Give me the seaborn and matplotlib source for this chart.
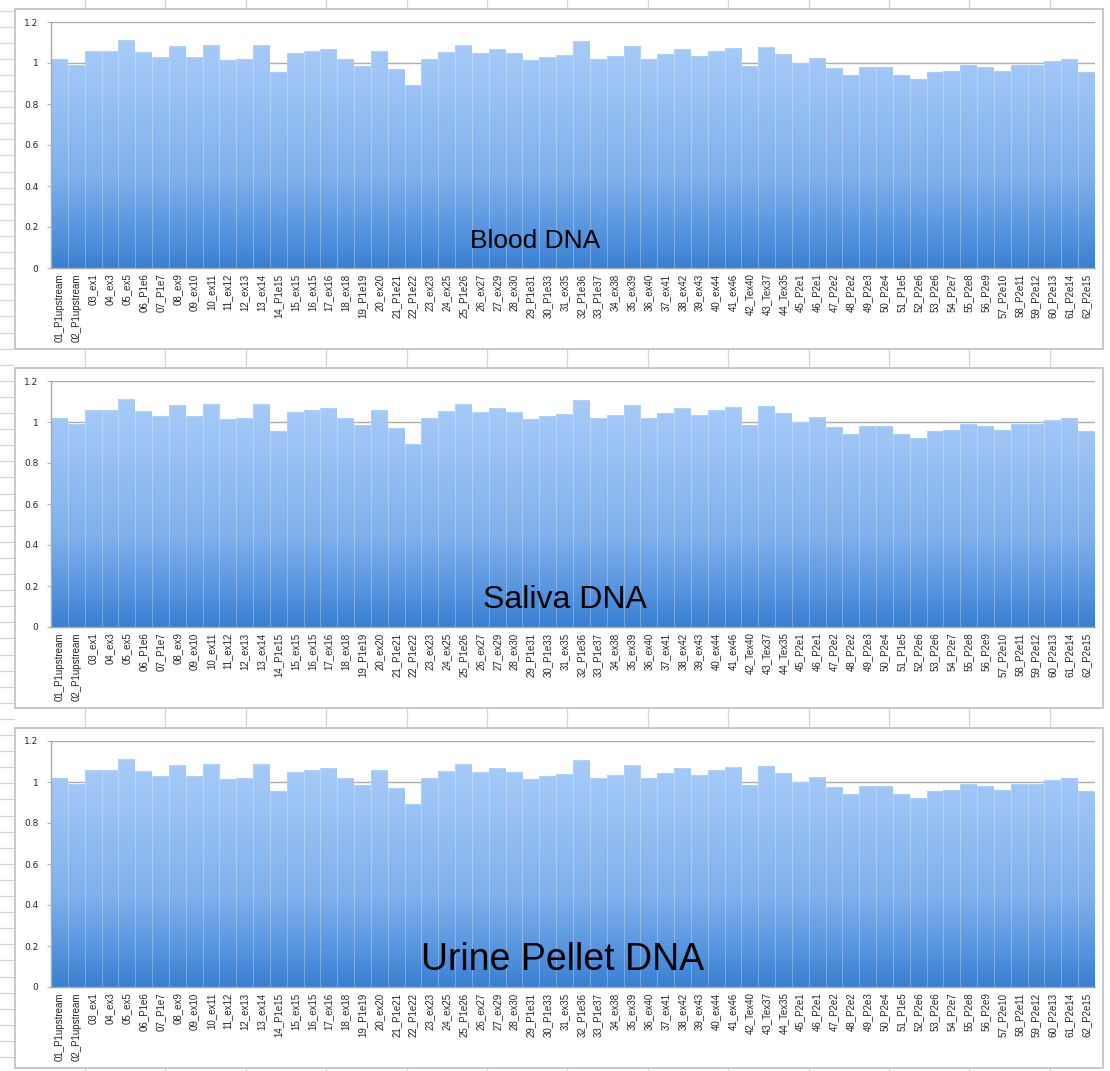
import numpy as np
import pandas as pd
import seaborn as sns
import matplotlib.pyplot as plt
from matplotlib.colors import LinearSegmentedColormap
from matplotlib.patches import Rectangle

# Amplicon names along the x axis
amplicons = [
    "01_P1upstream", "02_P1upstream", "03_ex1", "04_ex3", "05_ex5", "06_P1e6",
    "07_P1e7", "08_ex9", "09_ex10", "10_ex11", "11_ex12", "12_ex13", "13_ex14",
    "14_P1e15", "15_ex15", "16_ex15", "17_ex16", "18_ex18", "19_P1e19", "20_ex20",
    "21_P1e21", "22_P1e22", "23_ex23", "24_ex25", "25_P1e26", "26_ex27", "27_ex29",
    "28_ex30", "29_P1e31", "30_P1e33", "31_ex35", "32_P1e36", "33_P1e37", "34_ex38",
    "35_ex39", "36_ex40", "37_ex41", "38_ex42", "39_ex43", "40_ex44", "41_ex46",
    "42_Tex40", "43_Tex37", "44_Tex35", "45_P2e1", "46_P2e1", "47_P2e2", "48_P2e2",
    "49_P2e3", "50_P2e4", "51_P1e5", "52_P2e6", "53_P2e6", "54_P2e7", "55_P2e8",
    "56_P2e9", "57_P2e10", "58_P2e11", "59_P2e12", "60_P2e13", "61_P2e14", "62_P2e15",
]

# Normalised coverage per amplicon for each sample type
blood = [
    1.02, 0.99, 1.06, 1.06, 1.11, 1.055, 1.03, 1.085, 1.03, 1.09, 1.013, 1.02, 1.09,
    0.955, 1.05, 1.06, 1.07, 1.02, 0.985, 1.06, 0.97, 0.895, 1.02, 1.055, 1.09, 1.05,
    1.067, 1.05, 1.015, 1.03, 1.04, 1.105, 1.02, 1.035, 1.085, 1.02, 1.045, 1.067,
    1.035, 1.06, 1.075, 0.985, 1.08, 1.043, 1.0, 1.023, 0.977, 0.94, 0.98, 0.98,
    0.94, 0.92, 0.955, 0.963, 0.99, 0.98, 0.963, 0.99, 0.99, 1.01, 1.02, 0.955,
]
saliva = list(blood)
urine = list(blood)

panel_titles = ["Blood DNA", "Saliva DNA", "Urine Pellet DNA"]
panel_values = [blood, saliva, urine]

y_ticks = [0, 0.2, 0.4, 0.6, 0.8, 1.0, 1.2]
y_tick_labels = ["0", "0.2", "0.4", "0.6", "0.8", "1", "1.2"]

sns.set_theme(style="white")
plt.rcParams["font.family"] = ["Liberation Sans", "DejaVu Sans"]

W, H = 1110, 1071
fig = plt.figure(figsize=(W / 100, H / 100), dpi=100)


def box(x0, y0, x1, y1):
    """Pixel rectangle (top-left origin) to figure fraction."""
    return [x0 / W, 1 - y1 / H, (x1 - x0) / W, (y1 - y0) / H]


# Worksheet grid behind the charts
bg = fig.add_axes([0, 0, 1, 1])
bg.set_xlim(0, W)
bg.set_ylim(H, 0)
bg.axis("off")
for k in range(14):
    x = 85 + 80.4 * k
    bg.plot([x, x], [0, H], color="#d4d4d4", lw=0.9, zorder=1)
for k in range(70):
    y = 10.5 + 16.1 * k
    bg.plot([0, 14], [y, y], color="#d4d4d4", lw=0.9, zorder=1)

bar_cmap = LinearSegmentedColormap.from_list(
    "bars",
    [(0.0, "#3a80d2"), (0.15, "#5493de"), (0.4, "#7fb0eb"),
     (0.75, "#98c1f4"), (1.0, "#a6cbf9")],
)

# Chart frames: (frame top, frame bottom, value-axis top, value-axis zero)
layout = [(9, 349, 22, 268), (368, 708, 381, 627), (728, 1068, 741, 987)]
title_x = [0.464, 0.492, 0.490]
title_size = [19, 23, 27]

for (ftop, fbot, ptop, pzero), title, vals, tx, ts in zip(
        layout, panel_titles, panel_values, title_x, title_size):
    bg.add_patch(Rectangle((15, ftop), 1088, fbot - ftop, facecolor="white",
                           edgecolor="#c4c4c4", lw=1.3, zorder=2))

    ax = fig.add_axes(box(51, ptop, 1095, pzero))
    ax.set_facecolor("none")
    df = pd.DataFrame({"amplicon": amplicons, "ratio": vals})
    sns.barplot(data=df, x="amplicon", y="ratio", ax=ax, width=1.0,
                color="#8ab6ef", saturation=1, linewidth=0, zorder=2)

    # vertical colour gradient inside each bar
    grad = np.linspace(0, 1, 256).reshape(-1, 1)
    for patch in ax.patches:
        x0 = patch.get_x()
        w = patch.get_width()
        h = patch.get_height()
        im = ax.imshow(grad * h / 1.1, extent=(x0, x0 + w, 0, h), origin="lower",
                       cmap=bar_cmap, vmin=0, vmax=1, aspect="auto",
                       interpolation="bilinear", zorder=2.1)
        im.set_clip_path(patch)
        patch.set_edgecolor((1, 1, 1, 0.18))
        patch.set_linewidth(0.6)
        patch.set_zorder(2.2)
        patch.set_facecolor("none")

    ax.set_xlim(-0.5, len(amplicons) - 0.5)
    ax.set_ylim(0, 1.2)
    ax.set_yticks(y_ticks)
    ax.set_yticklabels(y_tick_labels, fontsize=6.5, color="#262626",
                       family=["DejaVu Sans"])
    ax.yaxis.grid(True, color="#acacac", lw=1.0, zorder=0)
    ax.set_axisbelow(True)
    ax.tick_params(axis="y", length=3, width=0.8, color="#b4b4b4", pad=6, left=True)
    ax.tick_params(axis="x", length=0, pad=4)
    ax.set_xticks(range(len(amplicons)))
    ax.set_xticklabels(amplicons, rotation=90, fontsize=7, color="#262626",
                       va="top", ha="center")
    ax.set_xlabel("")
    ax.set_ylabel("")
    for side in ("top", "right"):
        ax.spines[side].set_visible(False)
    ax.spines["left"].set_color("#a8a8a8")
    ax.spines["bottom"].set_color("#a8a8a8")
    ax.spines["left"].set_linewidth(1.0)
    ax.spines["bottom"].set_linewidth(1.0)

    ax.text(tx, 0.108, title, transform=ax.transAxes, ha="center", va="center",
            fontsize=ts, color="black", zorder=5)

fig.savefig("out.png", dpi=100)
